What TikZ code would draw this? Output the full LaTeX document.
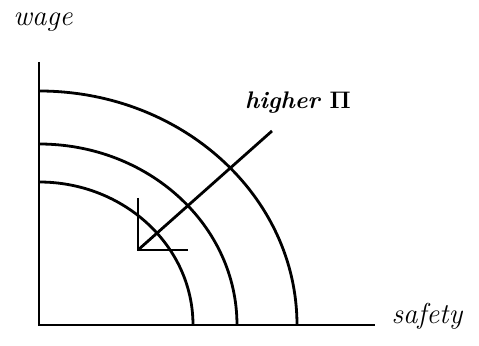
\documentclass[tikz,border=0pt]{standalone}
\usepackage{amsmath,amssymb}
\usepackage{tikz}
\usetikzlibrary{positioning}

\begin{document}
\begin{tikzpicture}[
    x=0.5pt, y=-0.5pt,
    axis/.style={line width=1.4pt},
    curve/.style={line width=1.4pt},
    hand/.style={font=\Large\itshape, inner sep=0pt},
    lbl/.style={font=\large\bfseries\itshape, inner sep=0pt}
]
\useasboundingbox (0,0) rectangle (479,346);

\coordinate (O) at (39,325);
\coordinate (ytop) at (39,62);
\coordinate (xend) at (375,325);

\draw[axis] (ytop) -- (O) -- (xend);

% indifference-like curves
\draw[curve] (39,182) arc[start angle=90, end angle=0, x radius=154, y radius=-143];
\draw[curve] (39,144) arc[start angle=90, end angle=0, x radius=198, y radius=-181];
\draw[curve] (39,91) arc[start angle=90, end angle=0, x radius=258, y radius=-234];

\node[hand] (wage) at (43,22) {wage};
\node[hand] (safety) at (427,316) {safety};
\node[lbl] (higher) at (298,103) {higher $\boldsymbol{\Pi}$};

% arrow with corner tip
\coordinate (tail) at (272,131);
\coordinate (tip) at (138,250);
\draw[curve] (tail) -- (tip);
\draw[curve] (tip) ++(0,-52) -- (tip) -- ++(50,0);
\end{tikzpicture}
\end{document}
